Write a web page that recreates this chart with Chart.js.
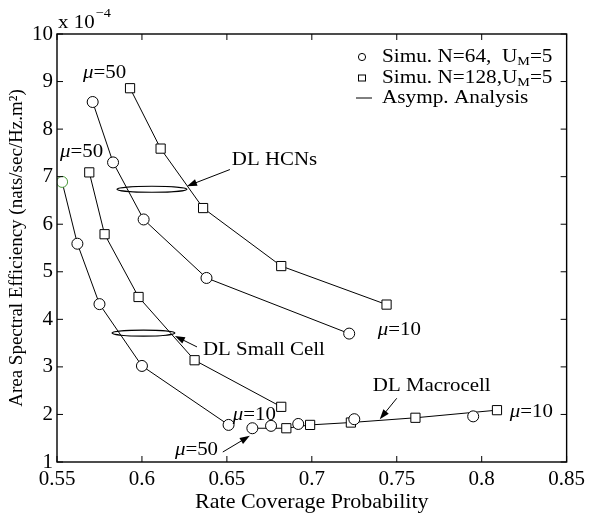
<!DOCTYPE html>
<html>
<head>
<meta charset="utf-8">
<script src="https://cdn.jsdelivr.net/npm/chart.js@4.4.1/dist/chart.umd.min.js"></script>
<style>
  html, body { margin: 0; padding: 0; background: #fff; }
  #wrap { width: 590px; height: 518px; }
</style>
</head>
<body>
<div id="wrap"><canvas id="chart" width="590" height="518"></canvas></div>
<script>
// values (y in units of 1e-4)
const xTicks = [0.55, 0.6, 0.65, 0.7, 0.75, 0.8, 0.85];
const yTicks = [1, 2, 3, 4, 5, 6, 7, 8, 9, 10];

const hcn64X = [0.571, 0.583, 0.601, 0.638, 0.722];
const hcn64Y = [8.57, 7.30, 6.10, 4.87, 3.70];
const hcn128X = [0.593, 0.611, 0.636, 0.682, 0.744];
const hcn128Y = [8.86, 7.59, 6.34, 5.12, 4.31];

const small64X = [0.553, 0.562, 0.575, 0.600, 0.651];
const small64Y = [6.89, 5.59, 4.32, 3.02, 1.78];
const small128X = [0.569, 0.578, 0.598, 0.631, 0.682];
const small128Y = [7.09, 5.79, 4.47, 3.14, 2.16];

const macro64X = [0.665, 0.676, 0.692, 0.725, 0.795];
const macro64Y = [1.71, 1.76, 1.80, 1.90, 1.96];
const macro128X = [0.665, 0.685, 0.699, 0.723, 0.761, 0.809];
const macro128Y = [1.71, 1.71, 1.78, 1.83, 1.93, 2.09];

const FONT = '"Liberation Serif", "Times New Roman", serif';

// text labels placed in data coordinates
const notes = [
  { text: "μ=50", x: 0.5653, y: 9.19 },
  { text: "μ=50", x: 0.5518, y: 7.51 },
  { text: "DL HCNs", x: 0.6529, y: 7.34 },
  { text: "DL Small Cell", x: 0.6359, y: 3.35 },
  { text: "μ=10", x: 0.6535, y: 1.99 },
  { text: "μ=50", x: 0.6194, y: 1.25 },
  { text: "μ=10", x: 0.7388, y: 3.77 },
  { text: "DL Macrocell", x: 0.7359, y: 2.60 },
  { text: "μ=10", x: 0.8165, y: 2.05 },
];
const arrows = [
  { from: [0.6518, 7.15], to: [0.6265, 6.80] },
  { from: [0.6324, 3.42], to: [0.6194, 3.65] },
  { from: [0.6476, 1.21], to: [0.6635, 1.55] },
  { from: [0.7500, 2.34], to: [0.7400, 1.90] },
];
const ellipses = [
  { x0: 0.5853, x1: 0.6265, y: 6.735 },
  { x0: 0.5824, x1: 0.6194, y: 3.71 },
];

function pts(xs, ys) {
  return xs.map((x, i) => ({ x, y: ys[i] }));
}

function series(label, xs, ys, style, extra) {
  return Object.assign({
    label,
    data: pts(xs, ys),
    showLine: true,
    borderColor: "#000",
    borderWidth: 1,
    pointStyle: style,
    pointRadius: style === "rect" ? 6.5 : 5.5,
    pointBackgroundColor: "#fff",
    pointBorderColor: "#000",
    pointBorderWidth: 1,
    tension: 0,
  }, extra || {});
}

function stretchText(ctx, text, x, y, font, sx) {
  ctx.save();
  ctx.font = font;
  const w = ctx.measureText(text).width * sx;
  ctx.translate(x, y);
  ctx.scale(sx, 1);
  ctx.fillText(text, 0, 0);
  ctx.restore();
  return w;
}

function drawNote(ctx, text, x, y) {
  const size = 19, sx = 1.1;
  if (text.startsWith("μ")) {
    const w = stretchText(ctx, "μ", x, y, `italic ${size}px ${FONT}`, sx);
    stretchText(ctx, text.slice(1), x + w, y, `${size}px ${FONT}`, sx);
  } else {
    stretchText(ctx, text, x, y, `${size}px ${FONT}`, sx);
  }
}

function drawArrow(ctx, x0, y0, x1, y1) {
  const ang = Math.atan2(y1 - y0, x1 - x0);
  const len = 10, half = 3.5;
  ctx.beginPath();
  ctx.moveTo(x0, y0);
  ctx.lineTo(x1 - Math.cos(ang) * len * 0.8, y1 - Math.sin(ang) * len * 0.8);
  ctx.stroke();
  ctx.beginPath();
  ctx.moveTo(x1, y1);
  ctx.lineTo(x1 - Math.cos(ang) * len - Math.sin(ang) * half, y1 - Math.sin(ang) * len + Math.cos(ang) * half);
  ctx.lineTo(x1 - Math.cos(ang) * len + Math.sin(ang) * half, y1 - Math.sin(ang) * len - Math.cos(ang) * half);
  ctx.closePath();
  ctx.fill();
}

const decor = {
  id: "decor",
  afterDatasetsDraw(chart) {
    const { ctx, chartArea: a, scales: { x, y } } = chart;
    const px = (v) => x.getPixelForValue(v);
    const py = (v) => y.getPixelForValue(v);
    ctx.save();
    ctx.strokeStyle = "#000";
    ctx.fillStyle = "#000";

    // frame and inward ticks
    ctx.lineWidth = 1.4;
    ctx.strokeRect(a.left, a.top, a.right - a.left, a.bottom - a.top);
    ctx.lineWidth = 1;
    ctx.beginPath();
    x.ticks.forEach((t) => {
      const p = px(t.value);
      ctx.moveTo(p, a.bottom); ctx.lineTo(p, a.bottom - 6);
      ctx.moveTo(p, a.top); ctx.lineTo(p, a.top + 6);
    });
    y.ticks.forEach((t) => {
      const p = py(t.value);
      ctx.moveTo(a.left, p); ctx.lineTo(a.left + 6, p);
      ctx.moveTo(a.right, p); ctx.lineTo(a.right - 6, p);
    });
    ctx.stroke();

    // ellipses grouping the curves
    ctx.lineWidth = 1.2;
    ellipses.forEach((e) => {
      const cx = (px(e.x0) + px(e.x1)) / 2;
      const rx = (px(e.x1) - px(e.x0)) / 2;
      ctx.beginPath();
      ctx.ellipse(cx, py(e.y), rx, 3, 0, 0, Math.PI * 2);
      ctx.stroke();
    });

    ctx.lineWidth = 1;
    arrows.forEach((r) => drawArrow(ctx, px(r.from[0]), py(r.from[1]), px(r.to[0]), py(r.to[1])));

    ctx.textBaseline = "middle";
    ctx.textAlign = "left";
    notes.forEach((n) => drawNote(ctx, n.text, px(n.x), py(n.y)));

    // exponent label
    const w = stretchText(ctx, "x 10", a.left + 1, a.top - 11, `19px ${FONT}`, 1.1);
    stretchText(ctx, "\u22124", a.left + 2 + w, a.top - 20, `13px ${FONT}`, 1.1);

    // legend
    const lx = 362, tx = 382, rows = [57, 78, 98];
    const f = `18px ${FONT}`, fs = `12px ${FONT}`, sx = 1.18;
    ctx.lineWidth = 1;
    ctx.beginPath();
    ctx.arc(lx, rows[0], 3.6, 0, Math.PI * 2);
    ctx.stroke();
    ctx.strokeRect(lx - 3.5, rows[1] - 3, 7, 6);
    ctx.beginPath();
    ctx.moveTo(lx - 6, rows[2]); ctx.lineTo(lx + 10, rows[2]);
    ctx.stroke();

    let cx = tx + stretchText(ctx, "Simu. N=64,  U", tx, rows[0], f, sx);
    cx += stretchText(ctx, "M", cx, rows[0] + 5, fs, sx);
    stretchText(ctx, "=5", cx, rows[0], f, sx);
    cx = tx + stretchText(ctx, "Simu. N=128,U", tx, rows[1], f, sx);
    cx += stretchText(ctx, "M", cx, rows[1] + 5, fs, sx);
    stretchText(ctx, "=5", cx, rows[1], f, sx);
    stretchText(ctx, "Asymp. Analysis", tx, rows[2], f, sx);

    ctx.restore();
  },
};

const fmt = (v) => String(Number(v.toFixed(2)));

new Chart(document.getElementById("chart"), {
  type: "scatter",
  data: {
    datasets: [
      series("HCN N=64", hcn64X, hcn64Y, "circle"),
      series("HCN N=128", hcn128X, hcn128Y, "rect"),
      series("Small cell N=64", small64X, small64Y, "circle", {
        pointBorderColor: small64X.map((_, i) => (i === 0 ? "#4c9a3c" : "#000")),
      }),
      series("Small cell N=128", small128X, small128Y, "rect"),
      series("Macrocell N=64", macro64X, macro64Y, "circle", { showLine: false }),
      series("Macrocell N=128", macro128X, macro128Y, "rect", {
        pointRadius: macro128X.map((_, i) => (i === 0 ? 0 : 6.5)),
      }),
    ],
  },
  options: {
    responsive: false,
    animation: false,
    layout: { padding: { top: 34, right: 23, left: 0, bottom: 0 } },
    plugins: { legend: { display: false }, tooltip: { enabled: false } },
    scales: {
      x: {
        type: "linear",
        min: xTicks[0],
        max: xTicks[xTicks.length - 1],
        afterBuildTicks: (s) => { s.ticks = xTicks.map((v) => ({ value: v })); },
        afterFit: (s) => { s.height = 56; },
        grid: { display: false, drawTicks: false },
        border: { display: false },
        ticks: {
          padding: 5,
          color: "#000",
          font: { family: FONT, size: 21 },
          callback: fmt,
          maxRotation: 0,
        },
        title: {
          display: true,
          text: "Rate Coverage Probability",
          color: "#000",
          font: { family: FONT, size: 22 },
          padding: { top: 0, bottom: 3 },
        },
      },
      y: {
        type: "linear",
        min: yTicks[0],
        max: yTicks[yTicks.length - 1],
        afterBuildTicks: (s) => { s.ticks = yTicks.map((v) => ({ value: v })); },
        afterFit: (s) => { s.width = 57; },
        grid: { display: false, drawTicks: false },
        border: { display: false },
        ticks: {
          padding: 4,
          color: "#000",
          font: { family: FONT, size: 21 },
        },
        title: {
          display: true,
          text: "Area Spectral Efficiency (nats/sec/Hz.m²)",
          color: "#000",
          font: { family: FONT, size: 19 },
          padding: { top: 6, bottom: 0 },
        },
      },
    },
  },
  plugins: [decor],
});
</script>
</body>
</html>
